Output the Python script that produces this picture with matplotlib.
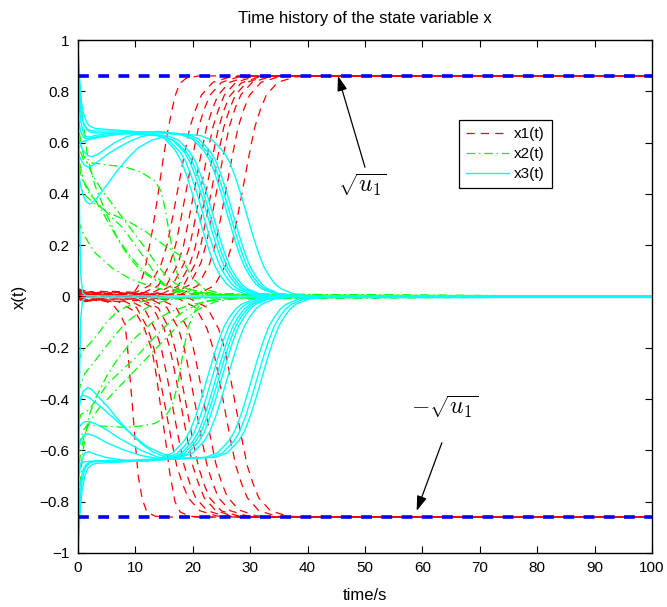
import matplotlib
matplotlib.use('Agg')
import matplotlib.pyplot as plt
from matplotlib.lines import Line2D

plt.rcParams['font.family'] = ['Liberation Sans', 'DejaVu Sans']
plt.rcParams['mathtext.fontset'] = 'cm'

# ---------------- data ----------------
title = 'Time history of the state variable x'
x_label = 'time/s'
y_label = 'x(t)'
legend_labels = ['x1(t)', 'x2(t)', 'x3(t)']
x_ticks = [0, 10, 20, 30, 40, 50, 60, 70, 80, 90, 100]
y_ticks = [-1, -0.8, -0.6, -0.4, -0.2, 0, 0.2, 0.4, 0.6, 0.8, 1]
y_tick_labels = ['\u22121', '\u22120.8', '\u22120.6', '\u22120.4', '\u22120.2', '0',
                 '0.2', '0.4', '0.6', '0.8', '1']
sqrt_u1 = 0.86          # level of the two blue dashed bounds
t_span = [0, 100]

# x1 trajectories rising to +sqrt(u1)
x1_up = [
    [(0,0.03),(3,0.01),(7,0.006),(9.9,0.02),(11,0.06),(11.7,0.11),(12.9,0.25),(13.8,0.375),(14.8,0.53),(15.6,0.64),(16.4,0.73),(16.9,0.78),(17.7,0.83),(18.8,0.85),(21,0.86),(100,0.86)],
    [(0,-0.01),(4,0.005),(9.5,0.01),(12.5,0.043),(14.5,0.126),(15.5,0.2),(16.5,0.31),(17.5,0.43),(18.5,0.55),(19.5,0.66),(20.5,0.73),(21.5,0.785),(23.5,0.835),(26.5,0.856),(29.5,0.86),(100,0.86)],
    [(0,0.015),(4,0.02),(11,0.01),(14,0.043),(16,0.126),(17,0.2),(18,0.31),(19,0.43),(20,0.55),(21,0.66),(22,0.73),(23,0.785),(25,0.835),(28,0.856),(31,0.86),(100,0.86)],
    [(0,-0.02),(4,-0.008),(12.4,0.008),(15.4,0.043),(17.4,0.126),(18.4,0.2),(19.4,0.31),(20.4,0.43),(21.4,0.55),(22.4,0.66),(23.4,0.73),(24.4,0.785),(26.4,0.835),(29.4,0.856),(32.4,0.86),(100,0.86)],
    [(0,0.005),(5,0.015),(13.5,0.01),(16.5,0.045),(18.5,0.13),(19.5,0.2),(20.5,0.31),(21.5,0.43),(22.5,0.55),(23.5,0.66),(24.5,0.73),(25.5,0.785),(27.5,0.835),(30.5,0.856),(33.5,0.86),(100,0.86)],
    [(0,0.025),(4,0.012),(14.4,0.008),(17.4,0.04),(19.4,0.12),(20.4,0.19),(21.4,0.3),(22.4,0.42),(23.4,0.54),(24.4,0.65),(25.4,0.725),(26.4,0.78),(28.4,0.832),(31.4,0.855),(34.4,0.86),(100,0.86)],
    [(0,-0.005),(5,0.002),(15.4,0.008),(18.4,0.043),(20.4,0.126),(21.4,0.2),(22.4,0.31),(23.4,0.43),(24.4,0.55),(25.4,0.66),(26.4,0.73),(27.4,0.785),(29.4,0.835),(32.4,0.856),(35.4,0.86),(100,0.86)],
    [(0,0.01),(6,0.02),(16.4,0.01),(19.4,0.045),(21.4,0.13),(22.4,0.21),(23.4,0.32),(24.4,0.44),(25.4,0.56),(26.4,0.665),(27.4,0.735),(28.4,0.787),(30.4,0.836),(33.4,0.856),(36.4,0.86),(100,0.86)],
    [(0,-0.015),(5,-0.005),(17.9,0.008),(20.9,0.043),(22.9,0.126),(23.9,0.2),(24.9,0.31),(25.9,0.43),(26.9,0.55),(27.9,0.66),(28.9,0.73),(29.9,0.785),(31.9,0.835),(34.9,0.856),(37.9,0.86),(100,0.86)],
    [(0,0.02),(6,0.008),(20.8,0.008),(23.8,0.043),(25.8,0.126),(26.8,0.2),(27.8,0.31),(28.8,0.43),(29.8,0.55),(30.8,0.66),(31.8,0.73),(32.8,0.785),(34.8,0.835),(37.8,0.856),(40.8,0.86),(100,0.86)],
]

# x1 trajectories falling to -sqrt(u1)
x1_down = [
    [(0,0.01),(3,-0.01),(5,-0.02),(6.4,-0.04),(7.4,-0.07),(8.2,-0.11),(8.6,-0.19),(9,-0.3),(9.5,-0.43),(9.9,-0.55),(10.5,-0.7),(11.2,-0.79),(12,-0.84),(13.5,-0.857),(16,-0.86),(100,-0.86)],
    [(0,-0.02),(4,-0.012),(7,-0.02),(10,-0.06),(11.5,-0.12),(12.9,-0.21),(13.6,-0.3),(14.4,-0.43),(15.2,-0.55),(16,-0.69),(16.9,-0.8),(17.8,-0.84),(19.5,-0.857),(22,-0.86),(100,-0.86)],
    [(0,0.02),(4,0.005),(7.2,-0.008),(10.2,-0.043),(12.2,-0.126),(13.2,-0.2),(14.2,-0.31),(15.2,-0.43),(16.2,-0.55),(17.2,-0.66),(18.2,-0.73),(19.2,-0.785),(21.2,-0.835),(24.2,-0.856),(27.2,-0.86),(100,-0.86)],
    [(0,-0.005),(4,-0.015),(8.5,-0.01),(11.5,-0.045),(13.5,-0.13),(14.5,-0.2),(15.5,-0.31),(16.5,-0.43),(17.5,-0.55),(18.5,-0.66),(19.5,-0.73),(20.5,-0.785),(22.5,-0.835),(25.5,-0.856),(28.5,-0.86),(100,-0.86)],
    [(0,0.012),(5,0.004),(10,-0.008),(13,-0.043),(15,-0.126),(16,-0.2),(17,-0.31),(18,-0.43),(19,-0.55),(20,-0.66),(21,-0.73),(22,-0.785),(24,-0.835),(27,-0.856),(30,-0.86),(100,-0.86)],
    [(0,-0.025),(4,-0.01),(11,-0.01),(14,-0.045),(16,-0.13),(17,-0.21),(18,-0.32),(19,-0.44),(20,-0.56),(21,-0.665),(22,-0.735),(23,-0.787),(25,-0.836),(28,-0.856),(31,-0.86),(100,-0.86)],
    [(0,0.0),(5,-0.005),(12.5,-0.008),(15.5,-0.043),(17.5,-0.126),(18.5,-0.2),(19.5,-0.31),(20.5,-0.43),(21.5,-0.55),(22.5,-0.66),(23.5,-0.73),(24.5,-0.785),(26.5,-0.835),(29.5,-0.856),(32.5,-0.86),(100,-0.86)],
    [(0,0.015),(6,0.005),(14,-0.008),(17,-0.04),(19,-0.12),(20,-0.19),(21,-0.3),(22,-0.42),(23,-0.54),(24,-0.65),(25,-0.725),(26,-0.78),(28,-0.832),(31,-0.855),(34,-0.86),(100,-0.86)],
    [(0,-0.01),(6,-0.02),(17.5,-0.008),(20.5,-0.043),(22.5,-0.126),(23.5,-0.2),(24.5,-0.31),(25.5,-0.43),(26.5,-0.55),(27.5,-0.66),(28.5,-0.73),(29.5,-0.785),(31.5,-0.835),(34.5,-0.856),(37.5,-0.86),(100,-0.86)],
    [(0,0.005),(5,0.01),(19.5,-0.008),(22.5,-0.043),(24.5,-0.126),(25.5,-0.2),(26.5,-0.31),(27.5,-0.43),(28.5,-0.55),(29.5,-0.66),(30.5,-0.73),(31.5,-0.785),(33.5,-0.835),(36.5,-0.856),(39.5,-0.86),(100,-0.86)],
]

# x2 trajectories (positive start)
x2_up = [
    [(0,0.86),(0.5,0.75),(1,0.66),(1.7,0.54),(3,0.43),(5,0.32),(7,0.22),(9,0.15),(11,0.1),(13,0.07),(15,0.045),(18,0.025),(22,0.01),(28,0.003),(100,0)],
    [(0,0.62),(0.5,0.56),(1,0.53),(2,0.52),(3,0.52),(5,0.513),(8.2,0.505),(11,0.485),(13.4,0.45),(14.5,0.41),(15.2,0.34),(15.8,0.26),(16.4,0.19),(17.4,0.075),(18.5,0.035),(20,0.02),(24,0.008),(30,0.002),(100,0)],
    [(0,0.68),(0.5,0.6),(1,0.55),(2.4,0.48),(4,0.42),(6,0.36),(8,0.3),(10,0.24),(11.7,0.19),(13.6,0.13),(15,0.09),(17,0.05),(20,0.025),(25,0.008),(100,0)],
    [(0,0.55),(0.5,0.5),(1,0.45),(1.7,0.41),(4,0.35),(7.7,0.27),(10,0.2),(12.2,0.13),(14,0.07),(15.7,0.035),(18,0.015),(22,0.005),(100,0)],
    [(0,0.52),(0.7,0.46),(2,0.41),(4,0.34),(6.4,0.245),(9,0.16),(11,0.11),(12.9,0.075),(15,0.045),(18,0.02),(23,0.006),(100,0)],
    [(0,0.3),(1,0.24),(3,0.17),(6,0.11),(9,0.07),(12,0.045),(16,0.02),(20,0.01),(100,0)],
    [(0,0.45),(1,0.4),(3,0.36),(6,0.32),(9,0.29),(12,0.25),(15,0.2),(17.8,0.16),(19,0.11),(20,0.07),(22,0.03),(25,0.01),(100,0)],
]

# x2 trajectories (negative start)
x2_down = [
    [(0,-0.85),(0.3,-0.75),(0.7,-0.64),(1.2,-0.55),(2,-0.46),(3,-0.4),(5,-0.31),(7,-0.24),(10,-0.16),(13,-0.1),(16,-0.06),(20,-0.03),(25,-0.01),(100,0)],
    [(0,-0.62),(0.5,-0.55),(1,-0.52),(1.7,-0.5),(4,-0.505),(8.2,-0.51),(11,-0.505),(13.4,-0.495),(15.2,-0.47),(16.5,-0.42),(17.5,-0.33),(18.3,-0.22),(19.2,-0.12),(20.5,-0.05),(22,-0.02),(26,-0.005),(100,0)],
    [(0,-0.5),(0.5,-0.46),(1.7,-0.445),(3,-0.41),(5.2,-0.34),(7.5,-0.29),(10,-0.24),(12,-0.19),(14.6,-0.13),(16.5,-0.09),(18.6,-0.055),(22,-0.02),(27,-0.005),(100,0)],
    [(0,-0.38),(0.5,-0.34),(1.2,-0.3),(3,-0.25),(4.7,-0.2),(6.5,-0.15),(8.2,-0.105),(10.5,-0.065),(13,-0.03),(16,-0.012),(20,-0.004),(100,0)],
    [(0,-0.25),(1,-0.21),(3,-0.16),(5,-0.1),(7,-0.055),(9,-0.035),(11,-0.02),(15,-0.007),(100,0)],
    [(0,-0.7),(0.4,-0.62),(1,-0.55),(2,-0.49),(3.5,-0.44),(6,-0.38),(9,-0.31),(12,-0.24),(15,-0.17),(18,-0.1),(21,-0.05),(24,-0.02),(28,-0.006),(100,0)],
]

# x3 trajectories (positive plateau, then decay)
x3_up = [
    [(0,0.98),(0.3,0.85),(0.6,0.76),(1,0.71),(1.5,0.68),(2,0.665),(3,0.655),(6,0.65),(12.9,0.637),(14.9,0.62),(16.9,0.572),(17.9,0.533),(18.9,0.474),(19.9,0.403),(20.9,0.325),(21.9,0.247),(22.9,0.176),(23.9,0.117),(24.9,0.078),(25.9,0.049),(26.9,0.03),(28.9,0.012),(30.9,0.005),(33.9,0.001),(100,0)],
    [(0,0.93),(0.3,0.8),(0.6,0.72),(1,0.675),(1.5,0.652),(2,0.642),(3,0.638),(6,0.638),(13.8,0.627),(15.8,0.61),(17.8,0.563),(18.8,0.525),(19.8,0.467),(20.8,0.397),(21.8,0.32),(22.8,0.243),(23.8,0.173),(24.8,0.115),(25.8,0.077),(26.8,0.048),(27.8,0.03),(29.8,0.0115),(31.8,0.0045),(34.8,0.001),(100,0)],
    [(0,0.8),(0.5,0.68),(1,0.635),(1.5,0.622),(2,0.622),(3,0.628),(5,0.635),(9,0.64),(14.5,0.627),(16.5,0.61),(18.5,0.563),(19.5,0.525),(20.5,0.467),(21.5,0.397),(22.5,0.32),(23.5,0.243),(24.5,0.173),(25.5,0.115),(26.5,0.077),(27.5,0.048),(28.5,0.03),(30.5,0.0115),(32.5,0.0045),(35.5,0.001),(100,0)],
    [(0,0.62),(0.5,0.59),(1,0.565),(1.7,0.55),(2.4,0.545),(3.5,0.555),(5,0.578),(6.4,0.6),(8.5,0.623),(11,0.638),(14,0.644),(18,0.63),(20,0.613),(22,0.566),(23,0.528),(24,0.47),(25,0.4),(26,0.322),(27,0.245),(28,0.174),(29,0.116),(30,0.078),(31,0.048),(32,0.03),(34,0.012),(36,0.0045),(39,0.001),(100,0)],
    [(0,0.56),(0.5,0.535),(1,0.515),(1.7,0.505),(2.5,0.51),(4,0.535),(5.5,0.56),(7,0.58),(9,0.605),(11,0.623),(13,0.632),(15.5,0.627),(17.5,0.61),(19.5,0.563),(20.5,0.525),(21.5,0.467),(22.5,0.397),(23.5,0.32),(24.5,0.243),(25.5,0.173),(26.5,0.115),(27.5,0.077),(28.5,0.048),(29.5,0.03),(31.5,0.0115),(33.5,0.0045),(36.5,0.001),(100,0)],
    [(0,0.5),(0.4,0.44),(0.8,0.4),(1.4,0.37),(2.1,0.36),(3,0.375),(4,0.405),(5.2,0.44),(7,0.495),(8.7,0.54),(10.5,0.58),(12.9,0.61),(15,0.622),(17,0.605),(19,0.56),(20,0.522),(21,0.465),(22,0.395),(23,0.318),(24,0.242),(25,0.172),(26,0.115),(27,0.077),(28,0.048),(29,0.03),(31,0.0115),(33,0.0045),(36,0.001),(100,0)],
    [(0,0.7),(0.5,0.64),(1,0.62),(1.5,0.615),(2,0.617),(3,0.622),(5,0.63),(8,0.638),(12,0.642),(18.5,0.63),(20.5,0.612),(22.5,0.565),(23.5,0.527),(24.5,0.468),(25.5,0.398),(26.5,0.321),(27.5,0.244),(28.5,0.173),(29.5,0.115),(30.5,0.077),(31.5,0.048),(32.5,0.03),(34.5,0.0115),(36.5,0.0045),(39.5,0.001),(100,0)],
    [(0,0.88),(0.3,0.77),(0.6,0.705),(1,0.672),(1.5,0.655),(2,0.648),(3,0.645),(8,0.645),(19,0.632),(21,0.615),(23,0.567),(24,0.529),(25,0.47),(26,0.4),(27,0.322),(28,0.245),(29,0.174),(30,0.116),(31,0.078),(32,0.048),(33,0.03),(35,0.0116),(37,0.0045),(40,0.001),(100,0)],
    [(0,0.6),(0.5,0.6),(1,0.605),(2,0.612),(4,0.622),(7,0.632),(10,0.638),(15,0.641),(21.4,0.627),(23.4,0.61),(25.4,0.563),(26.4,0.525),(27.4,0.467),(28.4,0.397),(29.4,0.32),(30.4,0.243),(31.4,0.173),(32.4,0.115),(33.4,0.077),(34.4,0.048),(35.4,0.03),(37.4,0.0115),(39.4,0.0045),(42.4,0.001),(100,0)],
]

# x3 trajectories (negative plateau, then decay)
x3_down = [
    [(0,-0.47),(0.4,-0.41),(0.9,-0.37),(1.7,-0.355),(2.5,-0.365),(3.5,-0.39),(5.2,-0.43),(7,-0.48),(9,-0.53),(11.1,-0.575),(13,-0.605),(15.2,-0.625),(16.5,-0.632),(18.5,-0.612),(20.5,-0.565),(21.5,-0.527),(22.5,-0.468),(23.5,-0.398),(24.5,-0.321),(25.5,-0.244),(26.5,-0.173),(27.5,-0.115),(28.5,-0.077),(29.5,-0.048),(30.5,-0.03),(32.5,-0.0115),(34.5,-0.0045),(37.5,-0.001),(100,0)],
    [(0,-0.52),(0.5,-0.5),(1,-0.49),(1.7,-0.487),(3,-0.495),(5,-0.52),(7,-0.55),(9,-0.575),(11,-0.6),(14,-0.627),(16,-0.632),(18,-0.612),(20,-0.565),(21,-0.527),(22,-0.468),(23,-0.398),(24,-0.321),(25,-0.244),(26,-0.173),(27,-0.115),(28,-0.077),(29,-0.048),(30,-0.03),(32,-0.0115),(34,-0.0045),(37,-0.001),(100,0)],
    [(0,-0.6),(0.5,-0.56),(1,-0.54),(1.7,-0.535),(3,-0.545),(5,-0.57),(8.2,-0.6),(11,-0.62),(14,-0.632),(16.5,-0.61),(18.5,-0.563),(19.5,-0.525),(20.5,-0.467),(21.5,-0.397),(22.5,-0.32),(23.5,-0.243),(24.5,-0.173),(25.5,-0.115),(26.5,-0.077),(27.5,-0.048),(28.5,-0.03),(30.5,-0.0115),(32.5,-0.0045),(35.5,-0.001),(100,0)],
    [(0,-0.72),(0.5,-0.65),(1.2,-0.61),(2,-0.605),(3,-0.615),(5,-0.628),(8,-0.638),(12,-0.642),(15.3,-0.63),(17.3,-0.612),(19.3,-0.565),(20.3,-0.527),(21.3,-0.468),(22.3,-0.398),(23.3,-0.321),(24.3,-0.244),(25.3,-0.173),(26.3,-0.115),(27.3,-0.077),(28.3,-0.048),(29.3,-0.03),(31.3,-0.0115),(33.3,-0.0045),(36.3,-0.001),(100,0)],
    [(0,-1.0),(0.3,-0.86),(0.7,-0.76),(1.2,-0.7),(1.7,-0.67),(2.5,-0.655),(3.3,-0.65),(8,-0.645),(17,-0.632),(19,-0.614),(21,-0.567),(22,-0.529),(23,-0.47),(24,-0.4),(25,-0.322),(26,-0.245),(27,-0.174),(28,-0.116),(29,-0.078),(30,-0.048),(31,-0.03),(33,-0.0116),(35,-0.0045),(38,-0.001),(100,0)],
    [(0,-0.95),(0.3,-0.82),(0.7,-0.72),(1.2,-0.67),(2,-0.648),(3,-0.642),(8,-0.64),(18,-0.627),(20,-0.61),(22,-0.563),(23,-0.525),(24,-0.467),(25,-0.397),(26,-0.32),(27,-0.243),(28,-0.173),(29,-0.115),(30,-0.077),(31,-0.048),(32,-0.03),(34,-0.0115),(36,-0.0045),(39,-0.001),(100,0)],
    [(0,-0.85),(0.4,-0.74),(0.8,-0.68),(1.4,-0.655),(2.2,-0.645),(5,-0.642),(12,-0.64),(22.3,-0.627),(24.3,-0.61),(26.3,-0.563),(27.3,-0.525),(28.3,-0.467),(29.3,-0.397),(30.3,-0.32),(31.3,-0.243),(32.3,-0.173),(33.3,-0.115),(34.3,-0.077),(35.3,-0.048),(36.3,-0.03),(38.3,-0.0115),(40.3,-0.0045),(43.3,-0.001),(100,0)],
    [(0,-0.42),(0.5,-0.39),(1,-0.385),(2,-0.395),(4,-0.43),(6,-0.47),(9,-0.53),(12,-0.585),(15,-0.615),(18,-0.63),(23.2,-0.627),(25.2,-0.61),(27.2,-0.563),(28.2,-0.525),(29.2,-0.467),(30.2,-0.397),(31.2,-0.32),(32.2,-0.243),(33.2,-0.173),(34.2,-0.115),(35.2,-0.077),(36.2,-0.048),(37.2,-0.03),(39.2,-0.0115),(41.2,-0.0045),(44.2,-0.001),(100,0)],
    [(0,-0.66),(1,-0.645),(3,-0.64),(10,-0.64),(24,-0.627),(26,-0.61),(28,-0.563),(29,-0.525),(30,-0.467),(31,-0.397),(32,-0.32),(33,-0.243),(34,-0.173),(35,-0.115),(36,-0.077),(37,-0.048),(38,-0.03),(40,-0.0115),(42,-0.0045),(45,-0.001),(100,0)],
]

# x3 trajectories that collapse to zero almost immediately
x3_fast = [
    [(0,1.0),(0.15,0.6),(0.3,0.28),(0.5,0.08),(0.8,0.015),(1.5,0.002),(100,0.002)],
    [(0,-1.0),(0.15,-0.6),(0.3,-0.28),(0.5,-0.08),(0.8,-0.015),(1.5,-0.004),(100,-0.004)],
]

# annotation positions (data coords)
ann_up_text = (49.5, 0.434)
ann_up_tail = (50.0, 0.504)
ann_up_tip = (45.3, 0.86)
ann_dn_text = (63.9, -0.43)
ann_dn_tail = (63.4, -0.57)
ann_dn_tip = (59.0, -0.836)

# ---------------- styles ----------------
RED, GREEN, CYAN, BLUE = '#ff0000', '#00ff00', '#00ffff', '#0000ff'
red_pat = (6.5, 5)
green_pat = (7, 3, 1.2, 3)
cyan_kw = dict(color=CYAN, lw=1.0)

fig = plt.figure(figsize=(6.67, 6.07), dpi=100)
ax = fig.add_axes([0.1169, 0.0890, 0.8606, 0.8451])


def draw(curves, color, pattern=None):
    for i, c in enumerate(curves):
        ts = [p[0] for p in c]
        ys = [p[1] for p in c]
        if pattern is None:
            ax.plot(ts, ys, color=color, lw=1.0)
        else:
            off = (i * 2.7) % sum(pattern)
            ax.plot(ts, ys, color=color, lw=0.9, linestyle=(off, pattern))


draw(x1_up + x1_down, RED, red_pat)
draw(x2_up + x2_down, GREEN, green_pat)
draw(x3_up + x3_down + x3_fast, CYAN)

for b in (sqrt_u1, -sqrt_u1):
    ax.plot(t_span, [b, b], color=BLUE, lw=2.6, dashes=(3.0, 2.6))

ax.set_xlim(0, 100)
ax.set_ylim(-1, 1)
ax.set_xticks(x_ticks)
ax.set_xticklabels([str(v) for v in x_ticks])
ax.set_yticks(y_ticks)
ax.set_yticklabels(y_tick_labels)
ax.tick_params(direction='in', length=5, width=0.8, top=True, right=True,
               labelsize=11, pad=6, colors='k')
for s in ax.spines.values():
    s.set_linewidth(1.0)

ax.set_title(title, fontsize=12, pad=12)
ax.set_xlabel(x_label, fontsize=12, labelpad=9)
ax.set_ylabel(y_label, fontsize=12, labelpad=9)

arrow_kw = dict(arrowstyle='-|>,head_length=0.9,head_width=0.3', color='k',
                lw=0.9, shrinkA=0, shrinkB=0)
ax.annotate('', xy=ann_up_tip, xytext=ann_up_tail, arrowprops=arrow_kw)
ax.annotate('', xy=ann_dn_tip, xytext=ann_dn_tail, arrowprops=arrow_kw)
ax.text(*ann_up_text, r'$\sqrt{u_1}$', fontsize=17, ha='center', va='center')
ax.text(*ann_dn_text, r'$-\sqrt{u_1}$', fontsize=17, ha='center', va='center')

handles = [Line2D([], [], color=RED, lw=0.9, linestyle=(0, red_pat)),
           Line2D([], [], color=GREEN, lw=0.9, linestyle=(0, green_pat)),
           Line2D([], [], **cyan_kw)]
leg = ax.legend(handles, legend_labels, loc='upper left', bbox_to_anchor=(0.664, 0.844),
                fontsize=11, frameon=True, fancybox=False, edgecolor='k', framealpha=1,
                borderaxespad=0, handlelength=2.8, handletextpad=0.35,
                labelspacing=0.4, borderpad=0.45)
leg.get_frame().set_linewidth(0.9)

fig.savefig('out.png', dpi=100)
